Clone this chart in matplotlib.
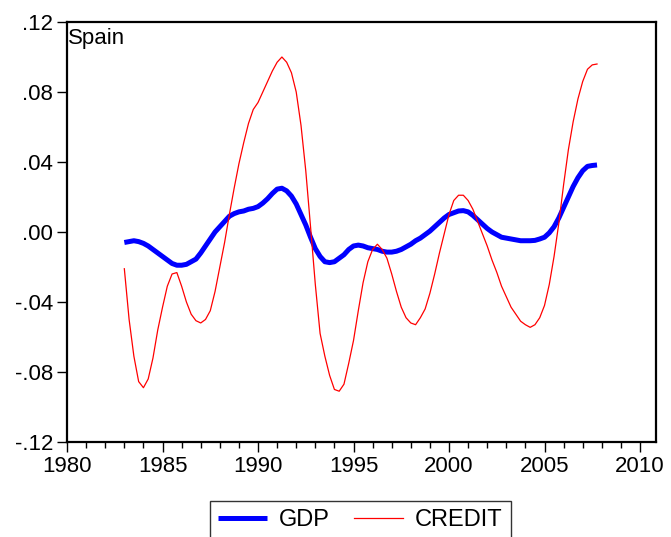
import matplotlib
matplotlib.use('Agg')
import matplotlib.pyplot as plt
from matplotlib.ticker import FuncFormatter, MultipleLocator
import numpy as np

# quarterly, 1983Q1 .. 2007Q4
start_year = 1983.0
gdp = [
    -0.0060, -0.0055, -0.0050, -0.0055,   # 1983
    -0.0065, -0.0080, -0.0100, -0.0120,   # 1984
    -0.0140, -0.0160, -0.0180, -0.0190,   # 1985
    -0.0190, -0.0185, -0.0170, -0.0155,   # 1986
    -0.0120, -0.0080, -0.0040, 0.0000,    # 1987
    0.0030, 0.0060, 0.0090, 0.0105,       # 1988
    0.0115, 0.0120, 0.0130, 0.0135,       # 1989
    0.0145, 0.0165, 0.0190, 0.0220,       # 1990
    0.0245, 0.0250, 0.0235, 0.0205,       # 1991
    0.0160, 0.0100, 0.0040, -0.0030,      # 1992
    -0.0095, -0.0140, -0.0170, -0.0175,   # 1993
    -0.0170, -0.0150, -0.0130, -0.0100,   # 1994
    -0.0080, -0.0075, -0.0080, -0.0090,   # 1995
    -0.0095, -0.0100, -0.0110, -0.0115,   # 1996
    -0.0115, -0.0110, -0.0100, -0.0085,   # 1997
    -0.0070, -0.0050, -0.0035, -0.0015,   # 1998
    0.0005, 0.0030, 0.0055, 0.0080,       # 1999
    0.0100, 0.0110, 0.0120, 0.0122,       # 2000
    0.0115, 0.0095, 0.0070, 0.0045,       # 2001
    0.0020, 0.0000, -0.0015, -0.0030,     # 2002
    -0.0035, -0.0040, -0.0045, -0.0050,   # 2003
    -0.0050, -0.0050, -0.0048, -0.0040,   # 2004
    -0.0030, -0.0005, 0.0030, 0.0080,     # 2005
    0.0140, 0.0200, 0.0260, 0.0310,       # 2006
    0.0350, 0.0375, 0.0380, 0.0383,       # 2007
]
credit = [
    -0.021, -0.050, -0.071, -0.0855,      # 1983
    -0.089, -0.084, -0.072, -0.056,       # 1984
    -0.043, -0.031, -0.024, -0.0232,      # 1985
    -0.031, -0.040, -0.047, -0.0507,      # 1986
    -0.052, -0.050, -0.045, -0.034,       # 1987
    -0.020, -0.006, 0.010, 0.025,         # 1988
    0.039, 0.051, 0.062, 0.070,           # 1989
    0.074, 0.080, 0.086, 0.092,           # 1990
    0.097, 0.100, 0.097, 0.091,           # 1991
    0.080, 0.061, 0.035, 0.003,           # 1992
    -0.030, -0.058, -0.071, -0.082,       # 1993
    -0.090, -0.091, -0.087, -0.075,       # 1994
    -0.062, -0.045, -0.029, -0.017,       # 1995
    -0.010, -0.007, -0.010, -0.015,       # 1996
    -0.024, -0.034, -0.043, -0.049,       # 1997
    -0.052, -0.053, -0.049, -0.044,       # 1998
    -0.035, -0.024, -0.012, -0.001,       # 1999
    0.010, 0.018, 0.021, 0.021,           # 2000
    0.018, 0.013, 0.006, -0.001,          # 2001
    -0.008, -0.016, -0.023, -0.031,       # 2002
    -0.037, -0.043, -0.047, -0.051,       # 2003
    -0.053, -0.0545, -0.053, -0.049,      # 2004
    -0.042, -0.030, -0.014, 0.005,        # 2005
    0.027, 0.047, 0.063, 0.076,           # 2006
    0.086, 0.093, 0.0955, 0.096,          # 2007
]
years = start_year + 0.25 * np.arange(len(gdp))

plt.rcParams['font.family'] = ['Liberation Sans', 'DejaVu Sans']

fig = plt.figure(figsize=(6.71, 5.37), dpi=100)
ax = fig.add_axes([0.0999, 0.177, 0.8778, 0.782])

ax.plot(years, gdp, color='#0000ff', lw=3.6, label='GDP', solid_capstyle='butt')
ax.plot(years, credit, color='#ff0000', lw=0.9, label='CREDIT')

ax.set_xlim(1980, 2010.84)
ax.set_ylim(-0.12, 0.12)
ax.xaxis.set_major_locator(MultipleLocator(5))
ax.xaxis.set_minor_locator(MultipleLocator(1))
ax.yaxis.set_major_locator(MultipleLocator(0.04))


def fmt(v, pos):
    s = '%.2f' % v
    if s in ('-0.00', '0.00'):
        return '.00'
    return s.replace('0.', '.', 1)


ax.yaxis.set_major_formatter(FuncFormatter(fmt))
ax.tick_params(axis='both', which='major', direction='out', length=7, width=1,
               labelsize=16, pad=3, top=False, right=False)
ax.tick_params(axis='x', which='minor', direction='out', length=4, width=1,
               top=False)
for sp in ax.spines.values():
    sp.set_linewidth(1.6)

ax.text(0.002, 0.985, 'Spain', transform=ax.transAxes, ha='left', va='top',
        fontsize=16)

# legend sits below the axes, its lower edge runs off the figure
leg = fig.legend(loc='upper center', bbox_to_anchor=(0.537, 0.067), ncol=2,
                 fontsize=17, frameon=True, fancybox=False, handlelength=2.1,
                 columnspacing=1.0, handletextpad=0.5, borderpad=0.35,
                 borderaxespad=0)
leg.get_frame().set_edgecolor('black')
leg.get_frame().set_linewidth(1.0)

fig.savefig('out.png', dpi=100)
